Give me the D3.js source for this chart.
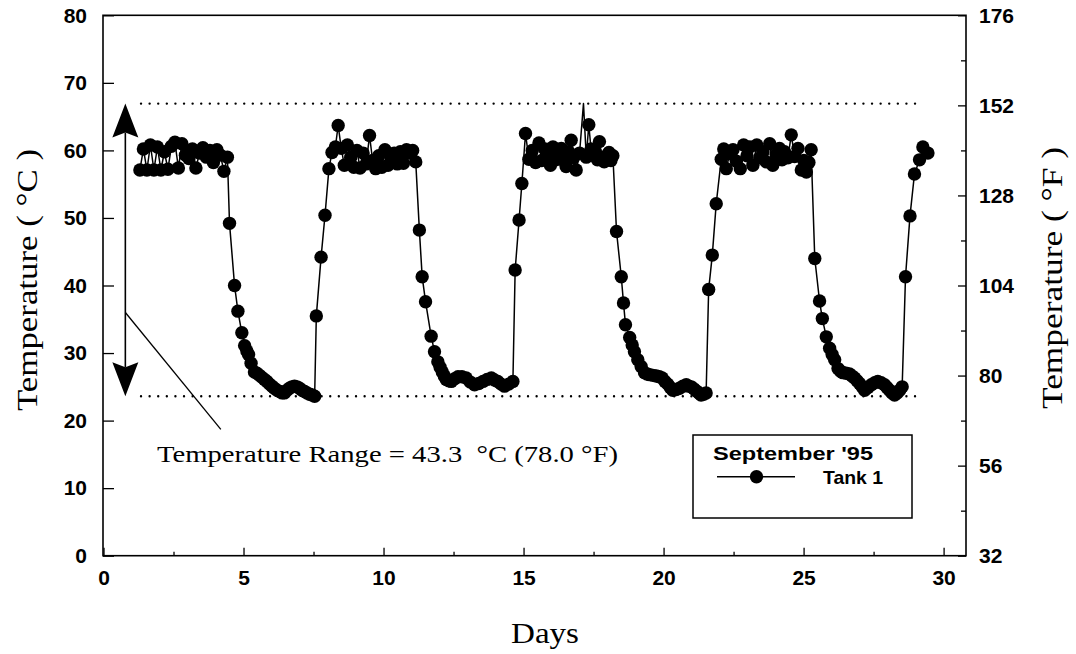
<!DOCTYPE html>
<html>
<head>
<meta charset="utf-8">
<script src="https://cdn.jsdelivr.net/npm/d3@7"></script>
<style>
  html, body { margin: 0; padding: 0; background: #fff; }
  svg { display: block; }
  .tick text { font-family: "Liberation Sans", Arial, sans-serif; font-weight: bold; font-size: 21px; fill: #000; }
  .tick line { stroke: #000; stroke-width: 1.3; }
  .serif { font-family: "Liberation Serif", "Times New Roman", serif; fill: #000; }
  .sans { font-family: "Liberation Sans", Arial, sans-serif; font-weight: bold; fill: #000; }
</style>
</head>
<body>
<svg id="chart" width="1076" height="654"></svg>
<script>
// Tank 1 temperature log, September '95 (marked readings, day of month vs °C)
const readingDays = [
  // heating 1
  1.30,1.425,1.55,1.675,1.80,1.925,2.05,2.175,2.30,2.425,2.55,2.675,2.80,2.925,3.05,3.175,3.30,3.425,3.55,3.675,3.80,3.925,4.05,4.175,4.30,4.425,
  // cooling 1
  4.50,4.68,4.80,4.94,5.04,5.12,5.18,5.27,5.39,5.48,5.57,5.66,5.75,5.84,5.93,6.02,6.10,6.20,6.29,6.38,6.46,6.55,6.64,6.73,6.82,6.91,7.00,7.09,7.18,7.27,7.36,7.45,7.54,
  7.60,7.77,7.91,8.05,
  // heating 2
  8.16,8.28,8.38,8.49,8.60,8.71,8.83,8.94,9.05,9.16,9.27,9.38,9.50,9.61,9.72,9.83,9.94,10.05,10.16,10.27,10.38,10.49,10.60,10.71,10.82,10.93,11.04,11.15,
  // cooling 2
  11.28,11.38,11.50,11.70,11.82,11.94,12.02,12.10,12.17,12.24,12.33,12.42,12.54,12.66,12.80,12.95,13.10,13.25,13.40,13.55,13.70,13.85,13.96,14.08,14.20,14.32,14.47,14.62,
  14.70,14.84,14.94,
  // heating 3
  15.07,15.19,15.31,15.43,15.55,15.65,15.76,15.87,15.96,16.05,16.15,16.25,16.35,16.44,16.52,16.61,16.70,16.79,16.88,17.00,17.24,17.33,17.41,17.48,17.56,17.64,17.71,17.80,17.88,17.95,18.05,18.12,18.19,
  // cooling 3
  18.32,18.49,18.57,18.64,18.79,18.88,18.96,19.08,19.20,19.32,19.41,19.50,19.62,19.74,19.85,19.95,20.05,20.15,20.24,20.33,20.45,20.57,20.69,20.81,20.90,20.99,21.08,21.17,21.26,21.34,21.43,21.52,
  21.61,21.74,21.88,
  // heating 4
  22.06,22.15,22.24,22.36,22.48,22.60,22.74,22.86,22.98,23.08,23.19,23.33,23.44,23.55,23.67,23.79,23.90,24.02,24.14,24.23,24.32,24.44,24.56,24.68,24.80,24.92,25.01,25.10,25.19,25.27,
  // cooling 4
  25.40,25.57,25.67,25.81,25.93,26.02,26.11,26.23,26.32,26.40,26.52,26.64,26.73,26.82,26.91,27.00,27.09,27.18,27.30,27.42,27.54,27.65,27.77,27.89,27.98,28.07,28.16,28.25,28.34,28.43,28.52,
  28.64,28.80,28.96,29.14,29.26,29.44
];
const readingTempC = [
  57.1,60.2,57.1,60.8,57.1,60.5,57.1,59.8,57.2,60.6,61.2,57.4,61.0,59.3,58.8,60.2,57.4,59.6,60.4,59.0,60.0,58.2,60.1,59.3,56.9,59.0,
  49.2,40.0,36.2,33.0,31.1,30.3,29.8,28.5,27.2,27.0,26.7,26.4,26.1,25.8,25.4,25.1,24.8,24.5,24.3,24.1,24.1,24.5,24.8,25.0,25.1,25.0,24.8,24.5,24.3,24.1,23.9,23.8,23.6,
  35.5,44.2,50.4,57.3,
  59.7,60.5,63.7,60.3,57.8,60.8,59.0,57.5,60.0,57.4,59.6,58.0,62.2,58.5,57.3,59.2,57.5,60.1,57.8,58.8,59.6,58.0,59.8,58.1,60.1,59.6,60.0,58.3,
  48.2,41.3,37.6,32.5,30.2,28.7,27.9,27.2,26.6,26.1,25.9,25.8,26.2,26.5,26.5,26.3,25.7,25.3,25.5,25.8,26.1,26.3,26.0,25.8,25.4,25.1,25.4,25.8,
  42.3,49.7,55.1,
  62.5,58.7,60.0,58.2,61.1,58.5,60.2,59.3,57.8,60.5,58.6,59.4,60.3,58.5,57.6,59.8,61.5,58.9,57.1,59.6,59.0,63.8,60.2,59.3,59.8,58.6,61.3,59.0,58.3,58.8,59.7,58.5,59.2,
  48.0,41.3,37.4,34.2,32.3,31.2,30.2,29.0,28.0,27.1,26.9,26.8,26.7,26.6,26.5,26.3,25.8,25.4,24.9,24.5,24.6,24.8,25.1,25.3,25.1,25.0,24.7,24.4,24.1,23.8,23.9,24.1,
  39.4,44.5,52.1,
  58.7,60.2,57.3,59.5,60.1,58.4,57.3,60.8,59.2,60.5,57.8,60.8,58.9,59.8,58.3,61.0,57.8,59.4,60.3,58.6,59.8,58.9,62.3,59.1,60.3,57.1,58.5,56.8,58.2,60.1,
  44.0,37.7,35.1,32.4,30.7,29.8,29.0,27.7,27.3,27.1,27.0,26.9,26.6,26.3,25.9,25.5,25.0,24.5,24.9,25.3,25.6,25.8,25.6,25.3,24.9,24.5,24.1,23.8,24.1,24.5,25.0,
  41.3,50.3,56.5,58.6,60.5,59.6
];
// Readings joined by the trace but drawn without a symbol
const unmarkedDays = [17.14];
const unmarkedTempC = [66.93];

// Extremes of the month (dotted guide lines)
const rangeHighC = 66.93;
const rangeLowC = 23.6;
const rangeSpanDays = [1.34, 29.26];

// Axis ticks
const dayTicks = [0, 5, 10, 15, 20, 25, 30];
const dayMinorTicks = [2.5, 7.5, 12.5, 17.5, 22.5, 27.5];
const celsiusTicks = [0, 10, 20, 30, 40, 50, 60, 70, 80];
const fahrenheitTicks = [32, 56, 80, 104, 128, 152, 176];
const fahrenheitMinorTicks = [44, 68, 92, 116, 140, 164];

const legendTitle = "September '95";
const seriesName = "Tank 1";

// ---- layout ----
const svg = d3.select("#chart");
const plotLeft = 103, plotRight = 966, plotTop = 15.3, plotBottom = 555.7;

const x = d3.scaleLinear().domain([0, 30.8]).range([103.5, plotRight]);
const y = d3.scaleLinear().domain([0, 80]).range([plotBottom, plotTop]);
const yF = d3.scaleLinear().domain([32, 176]).range([plotBottom, plotTop]);

// frame
svg.append("rect")
  .attr("x", plotLeft).attr("y", plotTop)
  .attr("width", plotRight - plotLeft).attr("height", plotBottom - plotTop)
  .attr("fill", "none").attr("stroke", "#000").attr("stroke-width", 1.6);

// axes (inward ticks)
const gLeft = svg.append("g").attr("transform", `translate(${plotLeft},0)`)
  .call(d3.axisLeft(y).tickValues(celsiusTicks).tickSize(-11).tickPadding(16).tickFormat(d3.format("d")));
const gBottom = svg.append("g").attr("transform", `translate(0,${plotBottom})`)
  .call(d3.axisBottom(x).tickValues(dayTicks).tickSize(-8).tickPadding(14).tickFormat(d3.format("d")));
const gBottomMinor = svg.append("g").attr("transform", `translate(0,${plotBottom})`)
  .call(d3.axisBottom(x).tickValues(dayMinorTicks).tickSize(-4).tickFormat(""));
const gRight = svg.append("g").attr("transform", `translate(${plotRight},0)`)
  .call(d3.axisRight(yF).tickValues(fahrenheitTicks).tickSize(-8).tickPadding(13).tickFormat(d3.format("d")));
const gRightMinor = svg.append("g").attr("transform", `translate(${plotRight},0)`)
  .call(d3.axisRight(yF).tickValues(fahrenheitMinorTicks).tickSize(-5).tickFormat(""));
[gLeft, gBottom, gBottomMinor, gRight, gRightMinor].forEach(g => g.select(".domain").remove());
svg.selectAll("g").attr("font-family", null).attr("font-size", null);

// axis titles
svg.append("text").attr("class", "serif")
  .attr("transform", "translate(37,280) rotate(-90)")
  .attr("text-anchor", "middle").attr("font-size", 29)
  .attr("textLength", 262).attr("lengthAdjust", "spacingAndGlyphs")
  .text("Temperature ( °C )");
svg.append("text").attr("class", "serif")
  .attr("transform", "translate(1062,278) rotate(-90)")
  .attr("text-anchor", "middle").attr("font-size", 29)
  .attr("textLength", 262).attr("lengthAdjust", "spacingAndGlyphs")
  .text("Temperature ( °F )");
svg.append("text").attr("class", "serif")
  .attr("x", 545).attr("y", 643)
  .attr("text-anchor", "middle").attr("font-size", 30)
  .attr("textLength", 68).attr("lengthAdjust", "spacingAndGlyphs")
  .text("Days");

// dotted max / min guides
[rangeHighC, rangeLowC].forEach(v => {
  svg.append("line")
    .attr("x1", x(rangeSpanDays[0])).attr("x2", x(rangeSpanDays[1]))
    .attr("y1", y(v)).attr("y2", y(v))
    .attr("stroke", "#000").attr("stroke-width", 2.4)
    .attr("stroke-linecap", "round").attr("stroke-dasharray", "0 8.6");
});

// temperature trace
const marked = readingDays.map((d, i) => ({ day: d, t: readingTempC[i] }));
const unmarked = unmarkedDays.map((d, i) => ({ day: d, t: unmarkedTempC[i] }));
const trace = marked.concat(unmarked).sort((a, b) => a.day - b.day);

svg.append("path")
  .datum(trace)
  .attr("fill", "none").attr("stroke", "#000").attr("stroke-width", 1.5)
  .attr("stroke-linejoin", "round")
  .attr("d", d3.line().x(d => x(d.day)).y(d => y(d.t)));

svg.append("g").selectAll("circle")
  .data(marked).join("circle")
  .attr("cx", d => x(d.day)).attr("cy", d => y(d.t))
  .attr("r", 6.7).attr("fill", "#000");

// range arrow
const arrowDay = 0.78;
const ax = x(arrowDay), yTop = y(rangeHighC), yBot = y(rangeLowC);
const headLen = 34, headHalf = 13, notch = 29;
svg.append("line")
  .attr("x1", ax).attr("x2", ax)
  .attr("y1", yTop + notch).attr("y2", yBot - notch)
  .attr("stroke", "#000").attr("stroke-width", 1.6);
svg.append("path")
  .attr("d", `M${ax},${yTop} L${ax + headHalf},${yTop + headLen} L${ax},${yTop + notch} L${ax - headHalf},${yTop + headLen} Z`)
  .attr("fill", "#000");
svg.append("path")
  .attr("d", `M${ax},${yBot} L${ax + headHalf},${yBot - headLen} L${ax},${yBot - notch} L${ax - headHalf},${yBot - headLen} Z`)
  .attr("fill", "#000");

// leader line to the range note
svg.append("line")
  .attr("x1", x(arrowDay)).attr("y1", y(36.0))
  .attr("x2", x(4.19)).attr("y2", y(18.7))
  .attr("stroke", "#000").attr("stroke-width", 1.3);

const spanC = rangeHighC - rangeLowC;
svg.append("text").attr("class", "serif")
  .attr("x", 157).attr("y", 462).attr("font-size", 23)
  .attr("textLength", 461).attr("lengthAdjust", "spacingAndGlyphs")
  .text(`Temperature Range = ${spanC.toFixed(1)}  °C (${(spanC * 1.8).toFixed(1)} °F)`)
  .attr("xml:space", "preserve").style("white-space", "pre");

// legend
svg.append("rect")
  .attr("x", 693).attr("y", 435).attr("width", 219).attr("height", 83)
  .attr("fill", "#fff").attr("stroke", "#000").attr("stroke-width", 1.5);
svg.append("text").attr("class", "sans")
  .attr("x", 713).attr("y", 459.5).attr("font-size", 19)
  .attr("textLength", 160).attr("lengthAdjust", "spacingAndGlyphs")
  .text(legendTitle);
svg.append("line")
  .attr("x1", 717).attr("x2", 795).attr("y1", 476.7).attr("y2", 476.7)
  .attr("stroke", "#000").attr("stroke-width", 1.4);
svg.append("circle").attr("cx", 756.5).attr("cy", 476.7).attr("r", 6.7).attr("fill", "#000");
svg.append("text").attr("class", "sans")
  .attr("x", 823).attr("y", 483.5).attr("font-size", 18.5)
  .attr("textLength", 60).attr("lengthAdjust", "spacingAndGlyphs")
  .text(seriesName);
</script>
</body>
</html>
